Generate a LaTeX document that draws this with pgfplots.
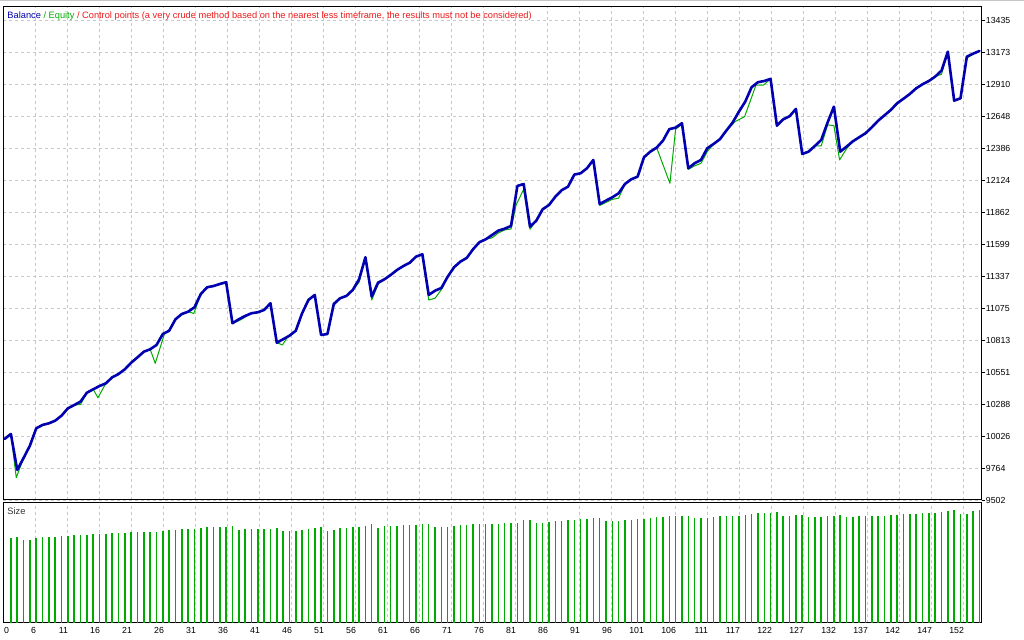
\documentclass[border=0pt]{standalone}
\usepackage{fontspec}
\setmainfont{Liberation Sans}
\usepackage{pgfplots}
\pgfplotsset{compat=1.18}
\definecolor{bal}{RGB}{0,0,176}
\definecolor{eq}{RGB}{0,170,0}
\definecolor{grd}{RGB}{200,200,200}
\definecolor{ttl}{RGB}{235,25,25}
\newcommand{\tfont}{\fontsize{8.8}{10}\selectfont}
\newcommand{\hfont}{\fontsize{9.3}{11}\selectfont}
\begin{document}
\begin{tikzpicture}
\pgfplotsset{
  mt/.style={
    scale only axis, width=978.4bp,
    xmin=-0.2, xmax=154.35,
    axis line style={black, line width=1bp},
    xtick={4.855,9.909,14.964,20.019,25.074,30.128,35.183,40.238,45.292,50.347,55.402,60.456,65.511,70.566,75.621,80.675,85.730,90.785,95.839,100.894,105.949,111.003,116.058,121.113,126.168,131.222,136.277,141.332,146.386,151.441},
    xmajorgrids,
    grid style={grd, dash pattern=on 3bp off 3bp, line width=0.8bp},
    x tick style={draw=none},
  }
}
\begin{axis}[mt, at={(3.3bp,140bp)}, anchor=south west, height=493.7bp,
  ymin=9502, ymax=13547,
  xticklabels={},
  ymajorgrids,
  ytick={9502,9764.2,10026.4,10288.6,10550.8,10813,11075.2,11337.4,11599.6,11861.8,12124,12386.2,12648.4,12910.6,13172.8,13435},
  yticklabels={9502,9764,10026,10288,10551,10813,11075,11337,11599,11862,12124,12386,12648,12910,13173,13435},
  ytick pos=right, tick align=outside, major tick length=3bp,
  y tick style={black, line width=0.8bp},
  yticklabel style={font=\tfont, anchor=west, inner sep=0pt, xshift=1bp, yshift=-0.8bp},
]
\addplot[eq, line width=1bp, line join=round] coordinates {
(0,10002)(1,10043)(1.85,9685)(2.5,9775)(3,9846)(4,9947)(5,10089)(6,10117)(7,10130)(8,10152)(9,10193)(10,10253)(11,10280)(12,10285)(13,10381)(14,10409)(14.75,10340)(16,10458)(17,10507)(18,10534)(19,10573)(20,10627)(21,10671)(22,10717)(23,10737)(23.8,10622)(25.3,10870)(26,10889)(27,10983)(28,11026)(29,11045)(29.9,11030)(31,11190)(32,11245)(33,11255)(34,11272)(35,11286)(36,10950)(37,10970)(38,11000)(39,11032)(40,11040)(41,11059)(42,11114)(43,10791)(43.9,10772)(44.6,10830)(45,10848)(46,10889)(47,11032)(48,11141)(49,11182)(50,10854)(51,10862)(52,11095)(53,11155)(54,11174)(55,11223)(56,11285)(57,11491)(58,11141)(59,11270)(60,11310)(61,11346)(62,11387)(63,11419)(64,11446)(65,11496)(66,11515)(67,11141)(68,11155)(69,11225)(70,11332)(71,11409)(72,11455)(73,11485)(74,11556)(75,11614)(76,11638)(77,11650)(78,11690)(79,11715)(80,11722)(80.8,11919)(82,12048)(83,11720)(84,11791)(85,11884)(86,11919)(87,11987)(88,12040)(89,12069)(90,12168)(91,12179)(92,12220)(93,12288)(94,11915)(95,11940)(96,11965)(97,11975)(98,12091)(99,12130)(100,12151)(101,12310)(102,12356)(103,12389)(105.1,12097)(106,12540)(107,12580)(108,12211)(109,12240)(110,12260)(111,12356)(112,12419)(113,12458)(114,12528)(115.4,12602)(116.9,12643)(118.7,12902)(119.9,12902)(121,12952)(122,12569)(123,12621)(124,12646)(125,12706)(126,12337)(127,12356)(128,12403)(129,12403)(130,12575)(131,12570)(131.9,12288)(133,12380)(134,12441)(135,12474)(136,12507)(137,12556)(138,12610)(139,12654)(140,12698)(141,12753)(142,12790)(143,12829)(144,12875)(145,12908)(146,12935)(147,12971)(148,12990)(149,13175)(150,12774)(151,12793)(152,13121)(153,13159)(154,13181)
};
\addplot[bal, line width=2.6bp, line join=round, line cap=round] coordinates {
(0,10002)(1,10043)(2,9748)(3,9846)(4,9947)(5,10089)(6,10117)(7,10130)(8,10152)(9,10193)(10,10253)(11,10280)(12,10308)(13,10381)(14,10409)(15,10436)(16,10458)(17,10507)(18,10534)(19,10573)(20,10627)(21,10671)(22,10717)(23,10737)(24,10772)(25,10862)(26,10889)(27,10983)(28,11026)(29,11045)(30,11081)(31,11190)(32,11245)(33,11255)(34,11272)(35,11286)(36,10950)(37,10983)(38,11010)(39,11032)(40,11040)(41,11059)(42,11114)(43,10791)(44,10819)(45,10848)(46,10889)(47,11032)(48,11141)(49,11182)(50,10854)(51,10862)(52,11108)(53,11155)(54,11174)(55,11223)(56,11310)(57,11491)(58,11168)(59,11283)(60,11310)(61,11346)(62,11387)(63,11419)(64,11446)(65,11496)(66,11515)(67,11182)(68,11217)(69,11239)(70,11332)(71,11409)(72,11455)(73,11485)(74,11556)(75,11614)(76,11638)(77,11673)(78,11709)(79,11725)(80,11747)(81,12075)(82,12091)(83,11741)(84,11791)(85,11884)(86,11919)(87,11987)(88,12040)(89,12069)(90,12168)(91,12179)(92,12220)(93,12288)(94,11927)(95,11955)(96,11982)(97,12015)(98,12091)(99,12130)(100,12151)(101,12310)(102,12356)(103,12389)(104,12446)(105,12540)(106,12553)(107,12589)(108,12220)(109,12261)(110,12288)(111,12384)(112,12419)(113,12458)(114,12528)(115,12594)(116,12684)(117,12766)(118,12884)(119,12925)(120,12935)(121,12952)(122,12569)(123,12621)(124,12646)(125,12706)(126,12337)(127,12356)(128,12403)(129,12452)(130,12594)(131,12725)(132,12356)(133,12397)(134,12441)(135,12474)(136,12507)(137,12556)(138,12610)(139,12654)(140,12698)(141,12753)(142,12790)(143,12829)(144,12875)(145,12908)(146,12935)(147,12971)(148,13020)(149,13175)(150,12774)(151,12793)(152,13134)(153,13159)(154,13181)
};
\end{axis}
\begin{axis}[mt, at={(3.3bp,17.3bp)}, anchor=south west, height=120.4bp,
  ymin=0, ymax=1.204, ytick=\empty,
  xticklabels={6,11,16,21,26,31,36,41,46,51,56,61,66,71,76,81,86,91,96,101,106,111,117,122,127,132,137,142,147,152},
  extra x ticks={0.62}, extra x tick labels={0},
  extra x tick style={grid=none},
  major tick length=0pt,
  xticklabel style={font=\tfont, anchor=north east, inner sep=0pt, xshift=0.8bp, yshift=-4.3bp},
]
\addplot[ycomb, eq, line width=1.5bp] coordinates {
(1,0.85)(2,0.86)(3,0.83)(4,0.83)(5,0.85)(6,0.86)(7,0.86)(8,0.86)(9,0.87)(10,0.87)(11,0.88)(12,0.88)(13,0.88)(14,0.89)(15,0.89)(16,0.89)(17,0.90)(18,0.90)(19,0.90)(20,0.91)(21,0.91)(22,0.91)(23,0.91)(24,0.91)(25,0.92)(26,0.93)(27,0.93)(28,0.94)(29,0.94)(30,0.94)(31,0.95)(32,0.96)(33,0.96)(34,0.96)(35,0.96)(36,0.97)(37,0.93)(38,0.94)(39,0.94)(40,0.94)(41,0.94)(42,0.94)(43,0.95)(44,0.92)(45,0.92)(46,0.92)(47,0.93)(48,0.94)(49,0.95)(50,0.96)(51,0.92)(52,0.93)(53,0.95)(54,0.95)(55,0.96)(56,0.96)(57,0.97)(58,0.99)(59,0.95)(60,0.97)(61,0.97)(62,0.97)(63,0.98)(64,0.98)(65,0.98)(66,0.99)(67,0.99)(68,0.96)(69,0.96)(70,0.96)(71,0.97)(72,0.98)(73,0.98)(74,0.99)(75,0.99)(76,0.99)(77,0.99)(78,0.99)(79,1.00)(80,1.00)(81,1.00)(82,1.03)(83,1.03)(84,1.00)(85,1.00)(86,1.01)(87,1.02)(88,1.02)(89,1.03)(90,1.03)(91,1.04)(92,1.04)(93,1.05)(94,1.05)(95,1.02)(96,1.02)(97,1.02)(98,1.03)(99,1.03)(100,1.04)(101,1.04)(102,1.05)(103,1.06)(104,1.06)(105,1.07)(106,1.07)(107,1.07)(108,1.07)(109,1.05)(110,1.05)(111,1.05)(112,1.06)(113,1.07)(114,1.07)(115,1.07)(116,1.07)(117,1.08)(118,1.09)(119,1.10)(120,1.10)(121,1.10)(122,1.11)(123,1.07)(124,1.07)(125,1.08)(126,1.08)(127,1.06)(128,1.06)(129,1.06)(130,1.07)(131,1.07)(132,1.08)(133,1.06)(134,1.06)(135,1.07)(136,1.07)(137,1.07)(138,1.07)(139,1.07)(140,1.08)(141,1.08)(142,1.09)(143,1.09)(144,1.09)(145,1.10)(146,1.10)(147,1.10)(148,1.11)(149,1.12)(150,1.13)(151,1.09)(152,1.09)(153,1.12)(154,1.13)
};
\end{axis}
\node[anchor=base west, inner sep=0pt, font=\hfont] at (7.3bp,621.7bp) {\textcolor{bal}{Balance}\textcolor{eq}{\ / Equity}\textcolor{ttl}{\ / Control points (a very crude method based on the nearest less timeframe, the results must not be considered)}};
\node[anchor=base west, inner sep=0pt, font=\hfont, text=black!80] at (7.3bp,125.7bp) {Size};
\draw[gray!45, line width=1.2bp] (0bp,639.3bp) -- (1024bp,639.3bp);
\pgfresetboundingbox
\path[use as bounding box] (0bp,0bp) rectangle (1024bp,640bp);
\end{tikzpicture}
\end{document}
